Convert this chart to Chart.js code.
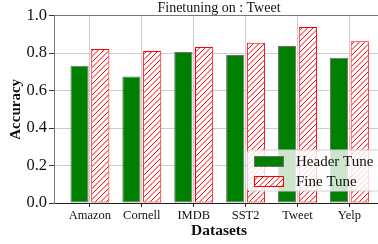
<!DOCTYPE html>
<html>
<head>
<meta charset="utf-8">
<script src="https://cdn.jsdelivr.net/npm/chart.js@4.4.1/dist/chart.umd.min.js"></script>
<style>
    html, body { margin: 0; padding: 0; overflow: hidden; background: #fff; }
    #wrap { width: 384px; height: 244px; }
</style>
</head>
<body>
<div id="wrap"><canvas id="chart"></canvas></div>
<script>
// Data
const datasetNames = ['Amazon', 'Cornell', 'IMDB', 'SST2', 'Tweet', 'Yelp'];
const headerTune = [0.733, 0.675, 0.806, 0.790, 0.838, 0.775];
const fineTune = [0.822, 0.811, 0.833, 0.856, 0.940, 0.863];
const seriesLabels = ['Header Tune', 'Fine Tune'];

const FONT = "'Liberation Serif', 'Times New Roman', serif";
const GREEN = '#008000';
const RED = '#ff0000';

// Diagonal "//" hatch pattern
function makeHatch(color) {
    const s = 11;
    const c = document.createElement('canvas');
    c.width = s;
    c.height = s;
    const g = c.getContext('2d');
    g.fillStyle = '#fff';
    g.fillRect(0, 0, s, s);
    g.strokeStyle = color;
    g.lineWidth = 1;
    for (let o = -s; o <= s; o += s / 2) {
        g.beginPath();
        g.moveTo(o, s);
        g.lineTo(o + s, 0);
        g.stroke();
    }
    return g.createPattern(c, 'repeat');
}

const hatch = makeHatch(RED);

// Legend drawn on top of the bars, like matplotlib's framed legend
const legendBox = {
    id: 'legendBox',
    afterDraw(chart) {
        const c = chart.ctx;
        const a = chart.chartArea;
        const bx = a.right - 136.5, by = a.bottom - 53;
        const bw = 133, bh = 41;
        c.save();
        c.beginPath();
        c.roundRect(bx, by, bw, bh, 3);
        c.fillStyle = 'rgba(255,255,255,0.8)';
        c.fill();
        c.strokeStyle = '#d0d0d0';
        c.lineWidth = 1;
        c.stroke();

        chart.data.datasets.forEach((ds, i) => {
            const py = by + 6.5 + i * 20;
            c.fillStyle = ds.backgroundColor;
            c.fillRect(bx + 7, py, 29, 10);
            c.strokeStyle = ds.borderColor;
            c.strokeRect(bx + 7, py, 29, 10);
            c.fillStyle = '#111';
            c.font = `15px ${FONT}`;
            c.textBaseline = 'middle';
            c.fillText(ds.label, bx + 48.5, py + 5.5);
        });
        c.restore();
    }
};

new Chart(document.getElementById('chart'), {
    type: 'bar',
    data: {
        datasets: [{
            label: seriesLabels[0],
            data: headerTune.map((v, i) => ({ x: i, y: v })),
            backgroundColor: GREEN,
            borderColor: '#6e6e6e',
            borderWidth: 1,
            borderSkipped: false,
            categoryPercentage: 0.8,
            barPercentage: 0.875
        }, {
            label: seriesLabels[1],
            data: fineTune.map((v, i) => ({ x: i, y: v })),
            backgroundColor: hatch,
            borderColor: RED,
            borderWidth: 1,
            borderSkipped: false,
            categoryPercentage: 0.8,
            barPercentage: 0.875
        }]
    },
    options: {
        animation: false,
        responsive: true,
        maintainAspectRatio: false,
        layout: { padding: 0 },
        plugins: {
            legend: { display: false },
            tooltip: { enabled: false },
            title: {
                display: true,
                text: 'Finetuning on : Tweet',
                fullSize: false,
                color: '#111',
                font: { family: FONT, size: 14, weight: 'normal', lineHeight: 1.12 },
                padding: 0
            }
        },
        scales: {
            x: {
                type: 'linear',
                min: -0.692,
                max: 5.667,
                offset: false,
                grid: { offset: false, color: '#cccccc', tickColor: '#222', tickLength: 4 },
                border: { color: '#222' },
                ticks: {
                    stepSize: 1,
                    includeBounds: false,
                    autoSkip: false,
                    maxRotation: 0,
                    padding: 1,
                    color: '#111',
                    font: { family: FONT, size: 12.5 },
                    callback: v => datasetNames[v] ?? ''
                },
                title: {
                    display: true,
                    text: 'Datasets',
                    color: '#111',
                    font: { family: FONT, size: 15.5, weight: 'bold' },
                    padding: { top: 0, bottom: 4 }
                },
                afterFit: s => { s.height = 41; }
            },
            y: {
                min: 0,
                max: 1,
                grid: {
                    color: c => (c.tick && c.tick.value === 1 ? '#777' : '#cccccc'),
                    tickColor: '#333',
                    tickLength: 5
                },
                border: { color: '#777' },
                ticks: {
                    stepSize: 0.2,
                    padding: 2,
                    color: '#111',
                    font: { family: FONT, size: 16.5 },
                    callback: v => v.toFixed(1)
                },
                title: {
                    display: true,
                    text: 'Accuracy',
                    color: '#111',
                    font: { family: FONT, size: 15, weight: 'bold' },
                    padding: { top: 7, bottom: 0 }
                },
                afterFit: s => { s.width = 54; }
            }
        }
    },
    plugins: [legendBox]
});
</script>
</body>
</html>
